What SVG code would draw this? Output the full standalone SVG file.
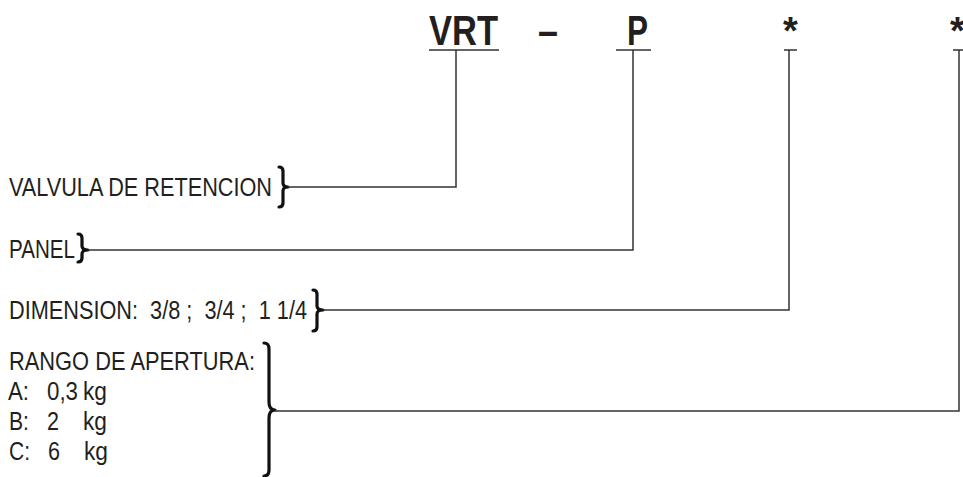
<svg xmlns="http://www.w3.org/2000/svg" width="963" height="477" viewBox="0 0 963 477">
<style>
.t{font-family:"Liberation Sans",Arial,sans-serif;font-size:26px;fill:#231f20}
.h{font-family:"Liberation Sans",Arial,sans-serif;font-size:43px;font-weight:bold;fill:#231f20}
.s{font-family:"Liberation Sans",Arial,sans-serif;font-size:38px;font-weight:bold;fill:#231f20}
.ln{fill:none;stroke:#333;stroke-width:1.5}
.br{fill:none;stroke:#111;stroke-width:3.2;stroke-linecap:round;stroke-linejoin:round}
</style>
<rect width="963" height="477" fill="#fff"/>
<g id="code">
<text class="h" x="429" y="45" textLength="69" lengthAdjust="spacingAndGlyphs">VRT</text>
<text class="h" x="538" y="45" textLength="20" lengthAdjust="spacingAndGlyphs">–</text>
<text class="h" x="627" y="45" textLength="21" lengthAdjust="spacingAndGlyphs">P</text>
<text class="s" x="790.5" y="44" text-anchor="middle">*</text>
<text class="s" x="957.5" y="44" text-anchor="middle">*</text>
<path class="ln" d="M429,50H499M616,50H651M784,50H797M953,50H964"/>
</g>
<g id="n-valvula">
<text class="t" x="9" y="196" textLength="263" lengthAdjust="spacingAndGlyphs">VALVULA DE RETENCION</text>
<path class="br" d="M279,167Q283,167 283,171L283,183Q283,187 288,187Q283,187 283,191L283,203Q283,207 279,207"/>
</g>
<g id="n-panel">
<text class="t" x="9" y="258" textLength="66" lengthAdjust="spacingAndGlyphs">PANEL</text>
<path class="br" d="M78,234Q82,234 82,238L82,246Q82,250 88,250Q82,250 82,254L82,258Q82,262 78,262"/>
</g>
<g id="n-dimension">
<text class="t" x="9" y="319" xml:space="preserve" textLength="298" lengthAdjust="spacingAndGlyphs">DIMENSION:  3/8 ;  3/4 ;  1 1/4</text>
<path class="br" d="M313,290Q317,290 317,294L317,306Q317,310 323,310Q317,310 317,314L317,327Q317,331 313,331"/>
</g>
<g id="n-rango">
<text class="t" x="9" y="370" textLength="246" lengthAdjust="spacingAndGlyphs">RANGO DE APERTURA:</text>
<text class="t" x="8" y="400" textLength="21" lengthAdjust="spacingAndGlyphs">A:</text>
<text class="t" x="47" y="400" textLength="31" lengthAdjust="spacingAndGlyphs">0,3</text>
<text class="t" x="83" y="400" textLength="24" lengthAdjust="spacingAndGlyphs">kg</text>
<text class="t" x="9" y="430" textLength="20" lengthAdjust="spacingAndGlyphs">B:</text>
<text class="t" x="47" y="430" textLength="12" lengthAdjust="spacingAndGlyphs">2</text>
<text class="t" x="83" y="430" textLength="24" lengthAdjust="spacingAndGlyphs">kg</text>
<text class="t" x="9" y="460" textLength="21" lengthAdjust="spacingAndGlyphs">C:</text>
<text class="t" x="48" y="460" textLength="12" lengthAdjust="spacingAndGlyphs">6</text>
<text class="t" x="84" y="460" textLength="24" lengthAdjust="spacingAndGlyphs">kg</text>
<path class="br" d="M264,343Q269,343 269,349L269,402Q269,410 275,410Q269,410 269,418L269,470Q269,476 264,476"/>
</g>
<g id="connectors">
<path class="ln" d="M456,50V187H288"/>
<path class="ln" d="M633,50V250H88"/>
<path class="ln" d="M789,50V310H323"/>
<path class="ln" d="M959,50V411H275"/>
</g>
</svg>
